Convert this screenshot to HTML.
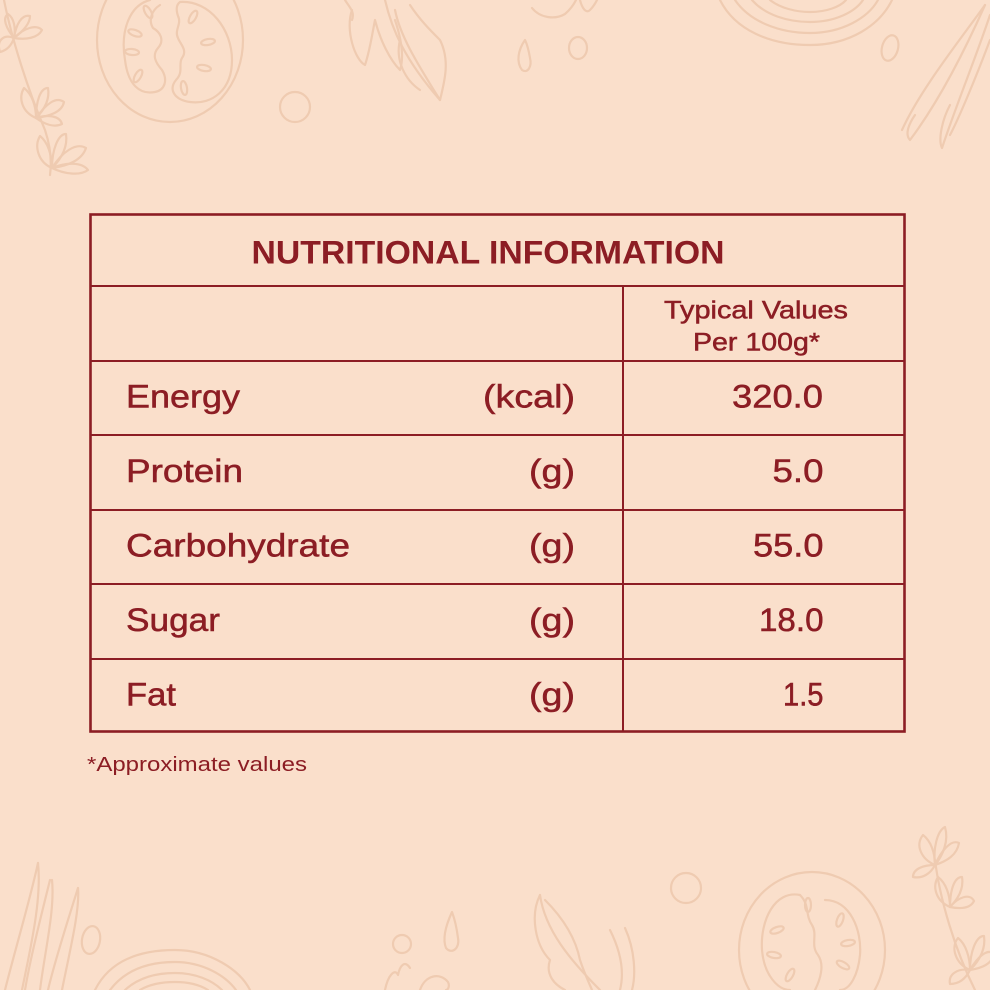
<!DOCTYPE html>
<html>
<head>
<meta charset="utf-8">
<style>
  html,body{margin:0;padding:0;background:#fadfcb;}
  body{width:990px;height:990px;overflow:hidden;}
  svg{display:block;}
  .t{font-family:"Liberation Sans",Arial,sans-serif;fill:#8c1d24;}
  .m{stroke:#8c1d24;stroke-width:0.5;paint-order:stroke;}
  .d{fill:none;stroke:#efcbb1;stroke-width:2.2;stroke-linecap:round;stroke-linejoin:round;}
</style>
</head>
<body>
<svg width="990" height="990" viewBox="0 0 990 990" xmlns="http://www.w3.org/2000/svg">
  <rect width="990" height="990" fill="#fadfcb"/>

  <!-- ===== background doodles ===== -->
  <g class="d">
    <path d="M4,0 C12,40 28,90 45,130 C50,145 52,160 50,175"/>
    <g transform="translate(14,38)">
      <path d="M0,0 C-8,-10 -12,-20 -6,-24 C0,-20 2,-10 0,0"/>
      <path d="M0,0 C2,-14 8,-24 16,-22 C16,-14 8,-6 0,0"/>
      <path d="M0,0 C10,-10 22,-14 28,-8 C24,0 12,2 0,0"/>
      <path d="M0,0 C-10,-4 -18,2 -14,14 C-6,12 -2,6 0,0"/>
    </g>
    <g transform="translate(36,118)">
      <path d="M0,0 C-14,-6 -18,-20 -12,-30 C-4,-24 0,-12 0,0"/>
      <path d="M0,0 C0,-16 4,-30 12,-30 C14,-18 8,-8 0,0"/>
      <path d="M0,0 C10,-14 20,-22 28,-16 C26,-6 14,-2 0,0"/>
      <path d="M0,0 C12,-4 24,-2 26,6 C18,10 8,6 0,0"/>
    </g>
    <g transform="translate(52,168)">
      <path d="M0,0 C-14,-6 -18,-22 -12,-32 C-4,-26 0,-12 0,0"/>
      <path d="M0,0 C0,-18 6,-34 14,-34 C16,-20 8,-8 0,0"/>
      <path d="M0,0 C10,-16 24,-26 34,-20 C30,-8 16,-2 0,0"/>
      <path d="M0,0 C14,-6 30,-6 36,2 C28,8 12,6 0,0"/>
    </g>
    <ellipse cx="170" cy="40" rx="73" ry="82"/>
    <path d="M150,0 C130,5 120,30 125,60 C128,85 140,95 155,92 C165,90 168,80 162,70 C155,62 152,55 158,48 C165,40 160,32 153,28 C148,20 152,10 160,5"/>
    <path d="M180,2 C210,0 232,30 232,60 C232,90 212,105 190,102 C175,100 168,90 176,80 C184,72 178,64 182,58 C188,50 180,44 178,38 C174,30 182,24 178,16 C176,10 176,5 180,2"/>
    <ellipse cx="148" cy="12" rx="3" ry="7" transform="rotate(-30 148 12)"/>
    <ellipse cx="135" cy="33" rx="3" ry="7" transform="rotate(-70 135 33)"/>
    <ellipse cx="132" cy="52" rx="3" ry="7" transform="rotate(-85 132 52)"/>
    <ellipse cx="138" cy="76" rx="3" ry="7" transform="rotate(30 138 76)"/>
    <ellipse cx="193" cy="17" rx="3" ry="7" transform="rotate(30 193 17)"/>
    <ellipse cx="208" cy="42" rx="3" ry="7" transform="rotate(80 208 42)"/>
    <ellipse cx="204" cy="68" rx="3" ry="7" transform="rotate(100 204 68)"/>
    <ellipse cx="184" cy="88" rx="3" ry="7" transform="rotate(-10 184 88)"/>
    <circle cx="295" cy="107" r="15"/>
    <path d="M385,0 C392,30 405,60 440,100"/>
    <path d="M352,10 C345,30 355,60 365,65 C370,50 372,35 375,20 C380,40 390,60 400,70 C405,55 400,35 395,20"/>
    <path d="M395,10 C400,35 415,60 440,100 C445,80 450,60 440,40 C430,30 420,20 410,5"/>
    <path d="M400,40 C395,60 405,80 420,90"/>
    <path d="M345,0 C350,8 355,12 352,20"/>
    <path d="M525,40 C518,50 516,62 522,70 C528,74 532,66 530,58 C529,52 528,46 525,40 Z"/>
    <ellipse cx="578" cy="48" rx="9" ry="11"/>
    <path d="M532,8 C540,18 555,20 565,14 C572,8 575,2 576,0"/>
    <path d="M580,0 C582,8 586,14 590,10 C594,6 596,2 597,0"/>
    <path d="M720,0 C735,30 770,45 810,45 C850,45 880,25 892,0"/>
    <path d="M735,0 C750,22 780,33 810,33 C842,33 868,18 878,0"/>
    <path d="M752,0 C765,15 788,22 810,22 C835,22 855,12 863,0"/>
    <path d="M770,0 C780,8 796,12 810,12 C826,12 840,7 846,0"/>
    <ellipse cx="890" cy="48" rx="8" ry="13" transform="rotate(15 890 48)"/>
    <path d="M985,5 C960,40 920,90 902,130"/>
    <path d="M985,5 C965,50 940,100 910,140 C905,135 908,125 915,115"/>
    <path d="M990,15 C975,60 958,100 942,148 C938,140 942,120 950,105"/>
    <path d="M990,40 C975,80 958,120 950,135"/>

    <path d="M38,863 C30,900 15,950 5,990"/>
    <path d="M38,863 C42,900 30,950 22,990"/>
    <path d="M50,880 C40,920 30,960 25,990"/>
    <path d="M52,880 C55,910 45,950 40,990"/>
    <path d="M78,888 C68,920 55,960 48,990"/>
    <path d="M78,888 C80,910 70,950 62,990"/>
    <ellipse cx="91" cy="940" rx="9" ry="14" transform="rotate(10 91 940)"/>
    <path d="M95,990 C110,960 140,950 175,950 C210,950 240,970 250,990"/>
    <path d="M110,990 C125,970 148,962 175,962 C202,962 225,975 236,990"/>
    <path d="M125,990 C138,978 155,973 175,973 C195,973 212,980 222,990"/>
    <path d="M140,990 C150,984 162,982 175,982 C188,982 200,985 208,990"/>
    <circle cx="402" cy="944" r="9"/>
    <path d="M452,912 C446,925 442,938 446,948 C452,955 460,948 458,938 C457,930 455,920 452,912 Z"/>
    <path d="M385,990 C388,975 395,968 398,975 C400,965 405,960 410,968"/>
    <path d="M420,990 C425,975 440,972 448,982 C450,986 448,990 446,990"/>
    <path d="M540,895 C545,930 570,960 600,990"/>
    <path d="M540,895 C530,915 535,945 550,960 C545,975 555,985 565,990"/>
    <path d="M545,900 C560,915 575,935 580,960 C585,975 590,985 592,990"/>
    <path d="M610,930 C620,950 625,970 620,990"/>
    <path d="M625,928 C635,950 636,975 632,990"/>
    <circle cx="686" cy="888" r="15"/>
    <ellipse cx="812" cy="950" rx="73" ry="78"/>
    <path d="M800,895 C775,890 760,920 762,950 C764,975 778,990 790,990"/>
    <path d="M825,900 C850,900 862,930 860,955 C858,975 850,990 840,990"/>
    <path d="M800,895 C810,905 805,915 812,925 C818,935 810,945 818,955 C825,965 820,980 815,990"/>
    <ellipse cx="808" cy="905" rx="3" ry="7"/>
    <ellipse cx="777" cy="930" rx="3" ry="7" transform="rotate(70 777 930)"/>
    <ellipse cx="774" cy="955" rx="3" ry="7" transform="rotate(100 774 955)"/>
    <ellipse cx="848" cy="943" rx="3" ry="7" transform="rotate(80 848 943)"/>
    <ellipse cx="840" cy="920" rx="3" ry="7" transform="rotate(20 840 920)"/>
    <ellipse cx="843" cy="965" rx="3" ry="7" transform="rotate(-60 843 965)"/>
    <ellipse cx="790" cy="975" rx="3" ry="7" transform="rotate(30 790 975)"/>
    <path d="M935,860 C940,900 955,950 975,990"/>
    <g transform="translate(935,865)">
      <path d="M0,0 C-14,-6 -20,-20 -12,-30 C-4,-24 0,-12 0,0"/>
      <path d="M0,0 C-2,-16 2,-34 10,-38 C14,-24 8,-10 0,0"/>
      <path d="M0,0 C6,-14 16,-26 24,-22 C22,-10 12,-4 0,0"/>
      <path d="M0,0 C-12,0 -22,4 -22,12 C-12,14 -4,8 0,0"/>
    </g>
    <g transform="translate(950,907)">
      <path d="M0,0 C-14,-6 -18,-20 -12,-30 C-4,-24 0,-12 0,0"/>
      <path d="M0,0 C0,-16 4,-30 12,-30 C14,-18 8,-8 0,0"/>
      <path d="M0,0 C8,-10 20,-14 24,-6 C20,2 10,2 0,0"/>
    </g>
    <g transform="translate(970,970)">
      <path d="M0,0 C-14,-6 -20,-22 -12,-32 C-4,-26 0,-12 0,0"/>
      <path d="M0,0 C0,-18 6,-34 14,-34 C16,-20 8,-8 0,0"/>
      <path d="M0,0 C8,-14 18,-22 24,-16 C22,-6 12,-2 0,0"/>
      <path d="M0,0 C-12,-2 -22,4 -20,14 C-10,14 -4,8 0,0"/>
    </g>
  </g>

  <!-- ===== table ===== -->
  <g stroke="#8c1d24" fill="none">
    <rect x="90.5" y="214.5" width="814" height="517" stroke-width="2.6"/>
    <g stroke-width="2">
      <line x1="90" y1="286" x2="905" y2="286"/>
      <line x1="90" y1="361" x2="905" y2="361"/>
      <line x1="90" y1="435" x2="905" y2="435"/>
      <line x1="90" y1="510" x2="905" y2="510"/>
      <line x1="90" y1="584" x2="905" y2="584"/>
      <line x1="90" y1="659" x2="905" y2="659"/>
      <line x1="623" y1="286" x2="623" y2="732"/>
    </g>
  </g>

  <text class="t" x="251.5" y="263.5" font-size="32" font-weight="bold" textLength="473" lengthAdjust="spacingAndGlyphs">NUTRITIONAL INFORMATION</text>

  <text class="t m" x="664" y="318.5" font-size="25" stroke-width="0.3" textLength="184" lengthAdjust="spacingAndGlyphs">Typical Values</text>
  <text class="t m" x="693" y="350.5" font-size="25" stroke-width="0.3" textLength="127" lengthAdjust="spacingAndGlyphs">Per 100g*</text>

  <g font-size="32">
    <text class="t m" x="126" y="407.5" textLength="114" lengthAdjust="spacingAndGlyphs">Energy</text>
    <text class="t m" x="483" y="407.5" textLength="92" lengthAdjust="spacingAndGlyphs">(kcal)</text>
    <text class="t m" x="732" y="407.5" textLength="91" lengthAdjust="spacingAndGlyphs">320.0</text>

    <text class="t m" x="126" y="482" textLength="117" lengthAdjust="spacingAndGlyphs">Protein</text>
    <text class="t m" x="529" y="482" textLength="46" lengthAdjust="spacingAndGlyphs">(g)</text>
    <text class="t m" x="772.5" y="482" textLength="51" lengthAdjust="spacingAndGlyphs">5.0</text>

    <text class="t m" x="126" y="556.5" textLength="224" lengthAdjust="spacingAndGlyphs">Carbohydrate</text>
    <text class="t m" x="529" y="556.5" textLength="46" lengthAdjust="spacingAndGlyphs">(g)</text>
    <text class="t m" x="753" y="556.5" textLength="70.5" lengthAdjust="spacingAndGlyphs">55.0</text>

    <text class="t m" x="126" y="631" textLength="94" lengthAdjust="spacingAndGlyphs">Sugar</text>
    <text class="t m" x="529" y="631" textLength="46" lengthAdjust="spacingAndGlyphs">(g)</text>
    <text class="t m" x="759" y="631" textLength="64.5" lengthAdjust="spacingAndGlyphs">18.0</text>

    <text class="t m" x="126" y="705.5" textLength="50" lengthAdjust="spacingAndGlyphs">Fat</text>
    <text class="t m" x="529" y="705.5" textLength="46" lengthAdjust="spacingAndGlyphs">(g)</text>
    <text class="t m" x="783" y="705.5" textLength="40.5" lengthAdjust="spacingAndGlyphs">1.5</text>
  </g>

  <text class="t" x="87" y="771" font-size="20" textLength="220" lengthAdjust="spacingAndGlyphs">*Approximate values</text>
</svg>
</body>
</html>
